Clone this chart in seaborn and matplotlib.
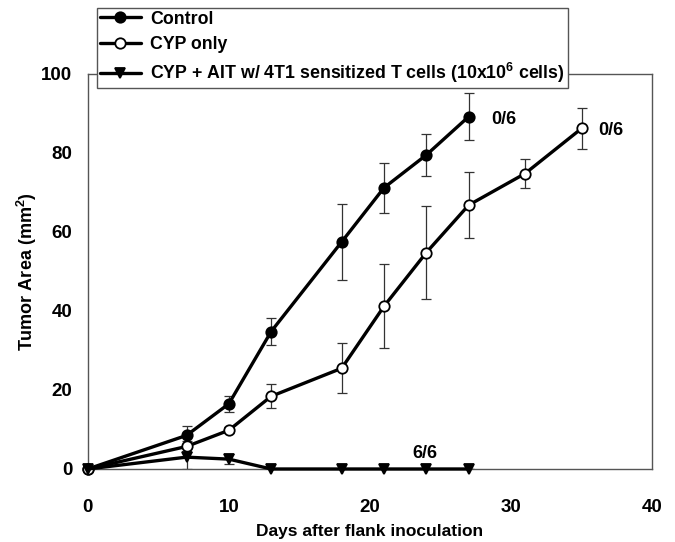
import matplotlib
matplotlib.use("Agg")
import matplotlib.pyplot as plt
import seaborn as sns
import pandas as pd

# ---- data ----
ctrl_days = [0, 7, 10, 13, 18, 21, 24, 27]
ctrl_vals = [0, 8.5, 16.5, 34.8, 57.5, 71.2, 79.5, 89.2]
ctrl_err = [0, 2.5, 2.0, 3.4, 9.6, 6.3, 5.2, 6.0]

cyp_days = [0, 7, 10, 13, 18, 21, 24, 27, 31, 35]
cyp_vals = [0, 5.7, 9.8, 18.4, 25.5, 41.2, 54.8, 66.8, 74.8, 86.2]
cyp_err = [0, 1.4, 0.8, 3.0, 6.3, 10.6, 11.7, 8.3, 3.6, 5.3]

ait_days = [0, 7, 10, 13, 18, 21, 24, 27]
ait_vals = [0, 3.0, 2.5, 0, 0, 0, 0, 0]
ait_err = [0, 2.9, 1.3, 0, 0, 0, 0, 0]

labels = ["Control", "CYP only",
          "CYP + AIT w/ 4T1 sensitized T cells (10x10$^\\mathbf{6}$ cells)"]
annotations = [("0/6", 28.6, 88.6), ("0/6", 36.2, 85.8), ("6/6", 23.0, 4.0)]
xticks = [0, 10, 20, 30, 40]
yticks = [0, 20, 40, 60, 80, 100]

sns.set_style("white")
plt.rcParams["font.family"] = ["Liberation Sans", "DejaVu Sans"]
plt.rcParams["font.weight"] = "bold"
plt.rcParams["text.color"] = "black"
plt.rcParams["axes.labelcolor"] = "black"
plt.rcParams["xtick.color"] = "black"
plt.rcParams["ytick.color"] = "black"
plt.rcParams["mathtext.fontset"] = "custom"
plt.rcParams["mathtext.bf"] = "Liberation Sans:bold"
plt.rcParams["mathtext.rm"] = "Liberation Sans:bold"

fig = plt.figure(figsize=(6.75, 5.42), dpi=100)
ax = fig.add_axes([0.130, 0.1347, 0.836, 0.7288])

series = [
    (ctrl_days, ctrl_vals, ctrl_err, "o", "black"),
    (cyp_days, cyp_vals, cyp_err, "o", "white"),
    (ait_days, ait_vals, ait_err, "v", "black"),
]
for (d, v, e, m, fc), lab in zip(series, labels):
    ax.errorbar(d, v, yerr=e, fmt="none", ecolor="#333333", elinewidth=0.9,
                capsize=3.5, capthick=0.9, zorder=2)
    df = pd.DataFrame({"day": d, "val": v})
    sns.lineplot(data=df, x="day", y="val", ax=ax, color="black", lw=2.4,
                 marker=m, markersize=7.5, markerfacecolor=fc,
                 markeredgecolor="black", markeredgewidth=1.3,
                 label=lab, zorder=3, clip_on=False)

for t, x, y in annotations:
    ax.text(x, y, t, fontsize=13, fontweight="bold", ha="left", va="center",
            color="black")

ax.set_xlim(0, 40)
ax.set_ylim(0, 100)
ax.set_xticks(xticks)
ax.set_yticks(yticks)
ax.tick_params(axis="both", direction="out", length=4.5, width=1, color="#555555",
               labelcolor="black", labelsize=13.5)
ax.tick_params(axis="x", pad=17)
ax.tick_params(axis="y", pad=6.5)
for lbl in ax.get_xticklabels() + ax.get_yticklabels():
    lbl.set_fontweight("bold")
for sp in ax.spines.values():
    sp.set_color("#555555")
    sp.set_linewidth(1.0)
ax.set_xlabel("Days after flank inoculation", fontsize=12.5, fontweight="bold",
              labelpad=6, color="black")
ax.set_ylabel("Tumor Area (mm$^\\mathbf{2}$)", fontsize=13, fontweight="bold",
              labelpad=2, color="black")

leg = ax.legend(loc="upper left", bbox_to_anchor=(97 / 675, 1 - 8 / 542),
                bbox_transform=fig.transFigure, frameon=True, fancybox=False,
                edgecolor="#555555", framealpha=1, fontsize=12.8,
                handlelength=2.3, labelspacing=0.47, borderpad=0.15,
                handletextpad=0.55, borderaxespad=0)
leg.get_frame().set_linewidth(1.0)
for t in leg.get_texts():
    t.set_fontweight("bold")
    t.set_color("black")

fig.savefig("out.png", dpi=100)
